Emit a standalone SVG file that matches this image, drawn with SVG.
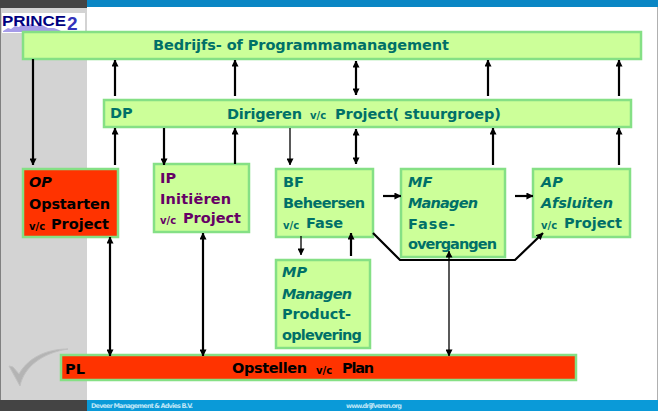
<svg xmlns="http://www.w3.org/2000/svg" width="658" height="411" viewBox="0 0 658 411">
<style>
text{font-family:"DejaVu Sans","Liberation Sans",sans-serif;font-weight:700;font-size:14.5px}
.t{fill:#007068}.p{fill:#660066}.k{fill:#000}
.s{font-size:10px}
.g{fill:#ccff99;stroke:#85e085;stroke-width:2.5}
.r{fill:#ff3300;stroke:#85e085;stroke-width:2.5}
.c{fill:none;stroke:#000;stroke-width:2.2}
.th{fill:none;stroke:#000;stroke-width:1.3}
.f{font-size:6.5px;fill:#bfe6f7}
</style>
<defs>
<marker id="a" viewBox="0 0 8 8" refX="7.5" refY="4" markerWidth="7" markerHeight="7" markerUnits="userSpaceOnUse" orient="auto-start-reverse"><path d="M0 0L8 4L0 8Z" fill="#000"/></marker>
</defs>
<g id="background">
<rect width="658" height="411" fill="#fff"/>
<rect x="0" y="0" width="87" height="411" fill="#d3d3d3"/>
<rect x="0" y="0" width="1" height="411" fill="#808080"/>
<rect x="657" y="0" width="1" height="411" fill="#b0b0b0"/>
<rect x="0" y="0" width="87" height="8" fill="#444"/>
<rect x="87" y="0" width="571" height="7" fill="#0a86c4"/>
<rect x="0" y="400" width="87" height="11" fill="#444"/>
<rect x="87" y="400" width="571" height="11" fill="#0a9ad8"/>
<rect x="2" y="13" width="83" height="20" fill="#fff"/>
<path d="M3 31l5-3 3 1 4-3 4 1 3-3 5 2 4-2 6 2 5-1 6 3 6 0 5 2 2 1v1H3Z" fill="#a59be8"/>
<text x="2" y="26" style="font-family:'Liberation Sans',sans-serif;font-size:15px;font-weight:700" fill="#000080" textLength="64" lengthAdjust="spacingAndGlyphs">PRINCE</text>
<text x="67" y="30" style="font-family:'Liberation Sans',sans-serif;font-size:19px;font-weight:700" fill="#3333bb">2</text>
<path d="M9 366L20 386C24 367 42 353 68 349C46 349 28 358 19 374L13 367Z" fill="#b4b4b4" stroke="#c0c0c0"/>
<text class="f" x="91" y="408" textLength="102">Deveer Management &amp; Advies B.V.</text>
<text class="f" x="346" y="408" textLength="56">www.drijfveren.org</text>
</g>
<g id="top"><rect class="g" x="23" y="32" width="618" height="27"/><text class="t" x="153" y="50" textLength="296">Bedrijfs- of Programmamanagement</text></g>
<g id="dp"><rect class="g" x="104" y="100" width="527" height="27"/><text class="t" x="110" y="118">DP</text><text class="t" x="227" y="119" textLength="75">Dirigeren</text><text class="t s" x="310" y="119">v/c</text><text class="t" x="335" y="119" textLength="166">Project( stuurgroep)</text></g>
<g id="op"><rect class="r" x="23" y="169" width="95" height="68"/><text class="k" x="29" y="187" font-style="italic">OP</text><text class="k" x="29" y="209" textLength="81">Opstarten</text><text class="k s" x="29" y="230">v/c</text><text class="k" x="51" y="229" textLength="58">Project</text></g>
<g id="ip"><rect class="g" x="154" y="164" width="95" height="68"/><text class="p" x="160" y="183">IP</text><text class="p" x="160" y="204" textLength="71">Initiëren</text><text class="p s" x="160" y="224">v/c</text><text class="p" x="183" y="223" textLength="58">Project</text></g>
<g id="bf"><rect class="g" x="276" y="169" width="97" height="68"/><text class="t" x="283" y="187">BF</text><text class="t" x="283" y="208" textLength="82">Beheersen</text><text class="t s" x="283" y="229">v/c</text><text class="t" x="306" y="228" textLength="37">Fase</text></g>
<g id="mf"><rect class="g" x="401" y="169" width="104" height="88"/><text class="t" x="408" y="187" font-style="italic">MF</text><text class="t" x="408" y="208" textLength="70" font-style="italic">Managen</text><text class="t" x="408" y="229" textLength="47">Fase-</text><text class="t" x="408" y="249" textLength="89">overgangen</text></g>
<g id="ap"><rect class="g" x="533" y="169" width="97" height="68"/><text class="t" x="541" y="187" font-style="italic">AP</text><text class="t" x="541" y="208" textLength="72" font-style="italic">Afsluiten</text><text class="t s" x="541" y="229">v/c</text><text class="t" x="564" y="228" textLength="58">Project</text></g>
<g id="mp"><rect class="g" x="276" y="260" width="94" height="88"/><text class="t" x="282" y="277" font-style="italic">MP</text><text class="t" x="282" y="299" textLength="70" font-style="italic">Managen</text><text class="t" x="282" y="319" textLength="69">Product-</text><text class="t" x="282" y="340" textLength="80">oplevering</text></g>
<g id="pl"><rect class="r" x="61" y="355" width="515" height="25"/><text class="k" x="65" y="374">PL</text><text class="k" x="232" y="373" textLength="75">Opstellen</text><text class="k s" x="316" y="374">v/c</text><text class="k" x="342" y="373" textLength="32">Plan</text></g>
<g id="connectors">
<path class="c" d="M33 59V165" marker-end="url(#a)"/>
<path class="c" d="M115 96V60" marker-end="url(#a)"/>
<path class="c" d="M235 96V60" marker-end="url(#a)"/>
<path class="c" d="M356 61V95" marker-start="url(#a)" marker-end="url(#a)"/>
<path class="c" d="M488 96V60" marker-end="url(#a)"/>
<path class="c" d="M619 96V60" marker-end="url(#a)"/>
<path class="c" d="M115 165V128" marker-end="url(#a)"/>
<path class="c" d="M164 128V165" marker-end="url(#a)"/>
<path class="c" d="M235 164V128" marker-end="url(#a)"/>
<path class="th" d="M290 128V165" marker-end="url(#a)"/>
<path class="c" d="M356 129V164" marker-start="url(#a)" marker-end="url(#a)"/>
<path class="c" d="M493 165V128" marker-end="url(#a)"/>
<path class="c" d="M619 165V128" marker-end="url(#a)"/>
<path class="c" d="M110 237V356" marker-start="url(#a)" marker-end="url(#a)"/>
<path class="c" d="M203 233V356" marker-start="url(#a)" marker-end="url(#a)"/>
<path class="th" d="M449 251V356" marker-start="url(#a)" marker-end="url(#a)"/>
<path class="th" d="M301 236V255" marker-end="url(#a)"/>
<path class="c" d="M351 256V233" marker-end="url(#a)"/>
<path class="c" d="M383 196H401" marker-end="url(#a)"/>
<path class="c" d="M515 196H533" marker-end="url(#a)"/>
<path class="c" d="M373 233L400 260H515L543 233" marker-end="url(#a)"/>
</g>
</svg>
